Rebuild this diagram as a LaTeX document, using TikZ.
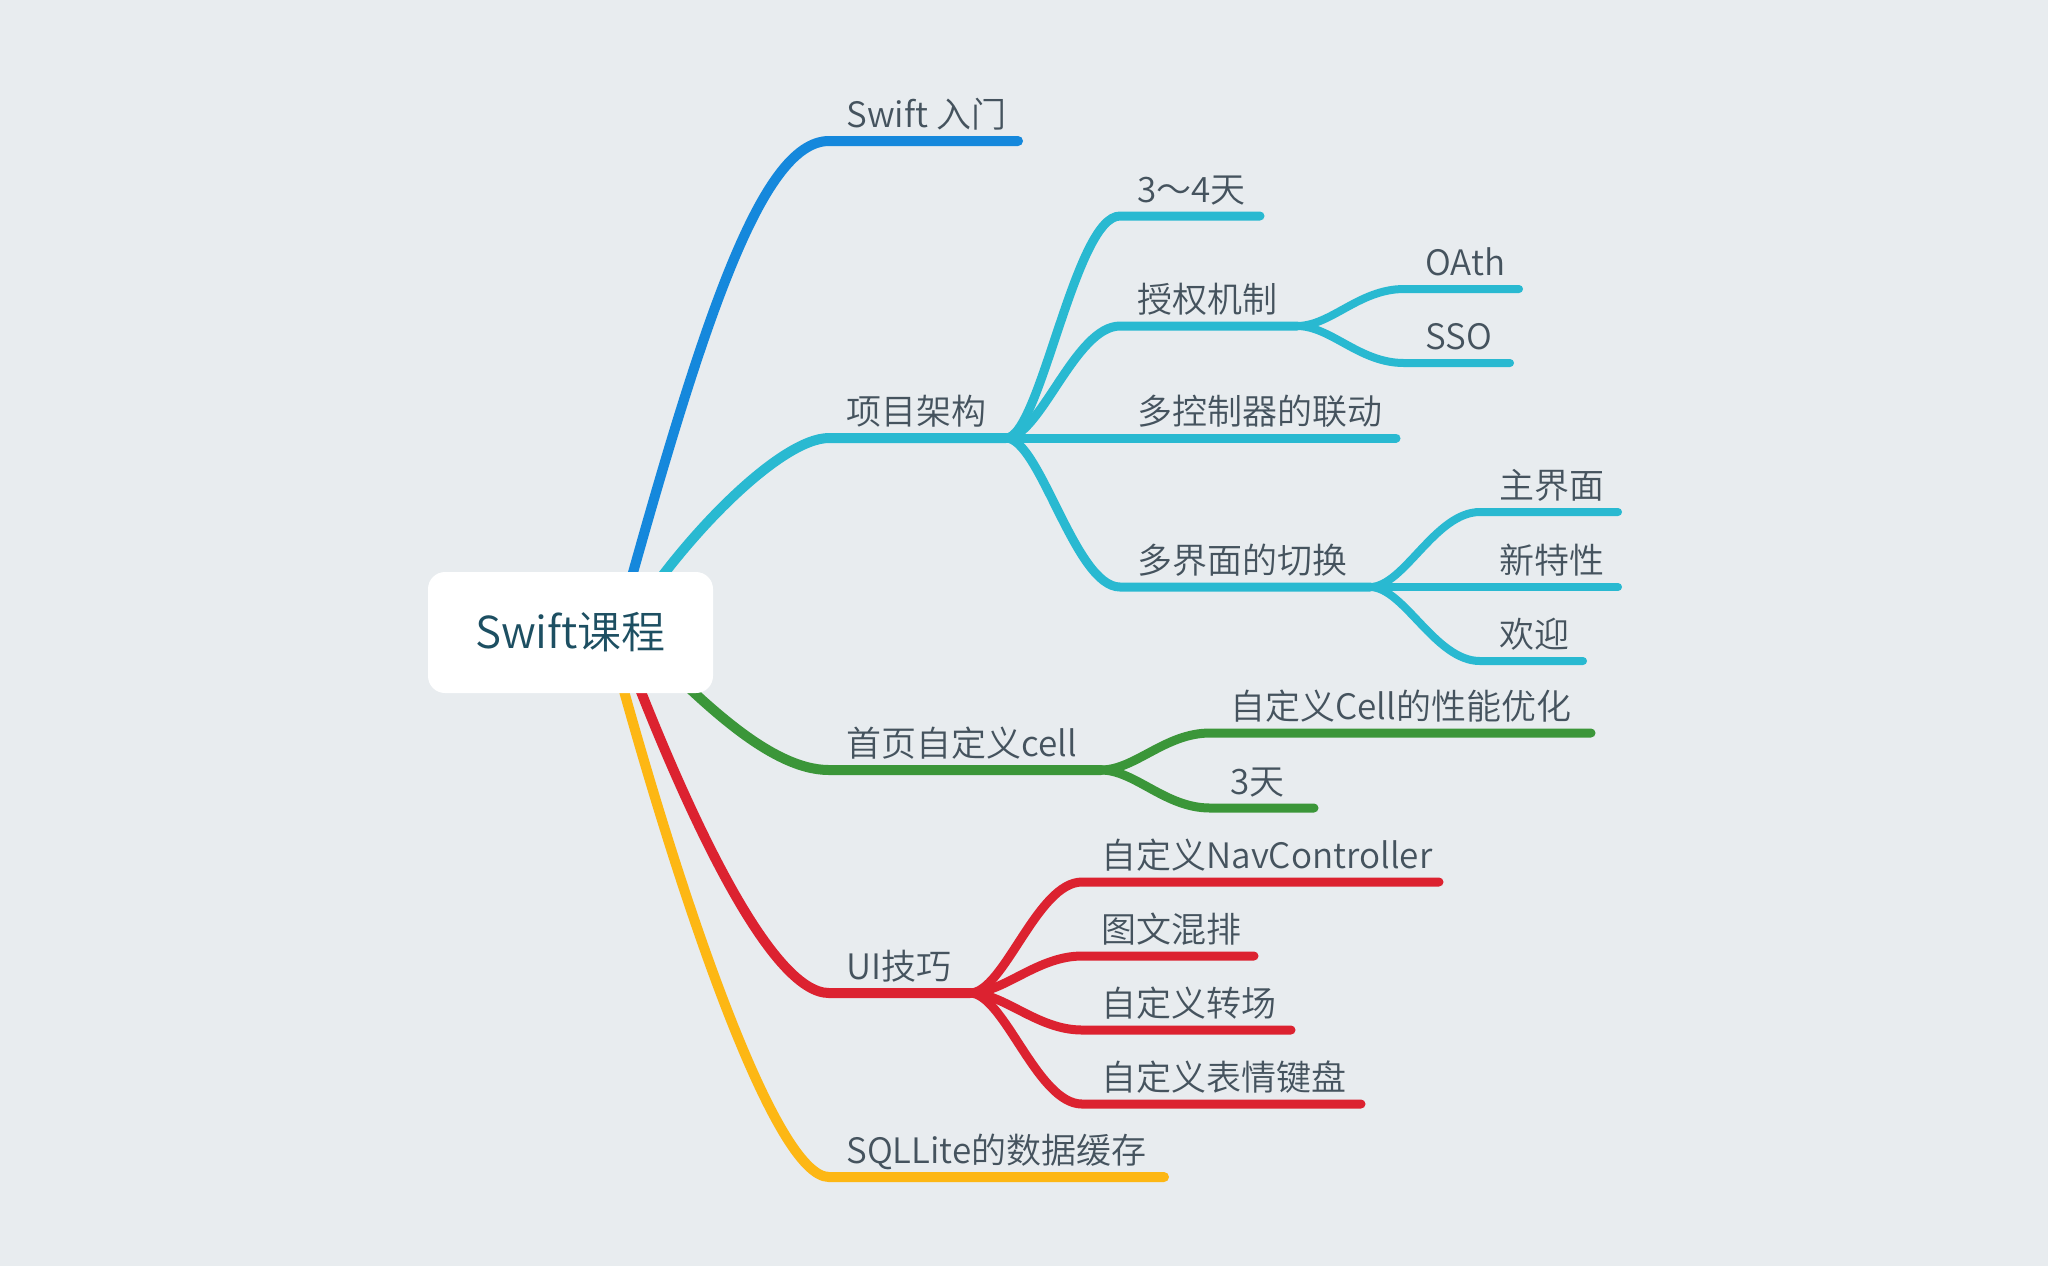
\documentclass[tikz,border=0pt]{standalone}
\usepackage{fontspec}
\setmainfont{Noto Sans CJK SC DemiLight}
\usepackage{tikz}

\definecolor{bgcol}{HTML}{E8ECEF}
\definecolor{txtcol}{HTML}{45535E}
\definecolor{roottxt}{HTML}{1D4F62}
\definecolor{cblue}{HTML}{1588DC}
\definecolor{ccyan}{HTML}{29B9D1}
\definecolor{cgreen}{HTML}{3B9639}
\definecolor{cred}{HTML}{DC2230}
\definecolor{cyellow}{HTML}{FDB714}

\tikzset{
  lone/.style={line width=5pt,line cap=round},
  ltwo/.style={line width=4.5pt,line cap=round},
  lthree/.style={line width=4pt,line cap=round},
  lbl/.style={anchor=base west,inner sep=0pt,text=txtcol,font=\fontsize{17.5}{20}\selectfont},
}

\begin{document}
\begin{tikzpicture}[x=0.5pt,y=-0.5pt]
\fill[bgcol] (0,0) rectangle (2048,1266);
\useasboundingbox (0,0) rectangle (2048,1266);

\coordinate (sBlue) at (617,630) ;
\coordinate (sCyan) at (625,630) ;
\coordinate (sGreen) at (640,640) ;
\coordinate (sRed) at (621,640) ;
\coordinate (sYellow) at (610,640) ;

\coordinate (cBlue) at (829,141) ;
\coordinate (eBlue) at (1018,141) ;
\coordinate (cCyan) at (829,438) ;
\coordinate (hCyan) at (1006,438) ;
\coordinate (cGreen) at (829,770) ;
\coordinate (hGreen) at (1101,770) ;
\coordinate (cRed) at (829,993) ;
\coordinate (hRed) at (970,993) ;
\coordinate (cYellow) at (829,1177) ;
\coordinate (eYellow) at (1164,1177) ;

\coordinate (cDays) at (1120,216) ;
\coordinate (eDays) at (1260,216) ;
\coordinate (cAuth) at (1120,326) ;
\coordinate (hAuth) at (1297,326) ;
\coordinate (eLink) at (1396,438) ;
\coordinate (cSwitch) at (1120,587) ;
\coordinate (hSwitch) at (1370,587) ;

\coordinate (cOath) at (1404,289) ;
\coordinate (eOath) at (1519,289) ;
\coordinate (cSso) at (1404,363) ;
\coordinate (eSso) at (1510,363) ;

\coordinate (cMain) at (1480,512) ;
\coordinate (eMain) at (1618,512) ;
\coordinate (eNew) at (1618,587) ;
\coordinate (cWelcome) at (1480,661) ;
\coordinate (eWelcome) at (1583,661) ;

\coordinate (cPerf) at (1210,733) ;
\coordinate (ePerf) at (1591,733) ;
\coordinate (cThree) at (1210,808) ;
\coordinate (eThree) at (1314,808) ;

\coordinate (cNav) at (1082,882) ;
\coordinate (eNav) at (1439,882) ;
\coordinate (cMix) at (1082,956) ;
\coordinate (eMix) at (1254,956) ;
\coordinate (cTrans) at (1082,1030) ;
\coordinate (eTrans) at (1291,1030) ;
\coordinate (cKey) at (1082,1104) ;
\coordinate (eKey) at (1361,1104) ;

\draw[lthree,ccyan] (hAuth) .. controls +(34,0) and +(-45,0) .. (cOath) -- (eOath) ;
\draw[lthree,ccyan] (hAuth) .. controls +(34,0) and +(-45,0) .. (cSso) -- (eSso) ;
\draw[lthree,ccyan] (hSwitch) .. controls +(34,0) and +(-45,0) .. (cMain) -- (eMain) ;
\draw[lthree,ccyan] (hSwitch) -- (eNew) ;
\draw[lthree,ccyan] (hSwitch) .. controls +(34,0) and +(-45,0) .. (cWelcome) -- (eWelcome) ;

\draw[ltwo,ccyan] (hCyan) .. controls +(34,0) and +(-45,0) .. (cDays) -- (eDays) ;
\draw[ltwo,ccyan] (hCyan) .. controls +(34,0) and +(-45,0) .. (cAuth) -- (hAuth) ;
\draw[ltwo,ccyan] (hCyan) -- (eLink) ;
\draw[ltwo,ccyan] (hCyan) .. controls +(34,0) and +(-45,0) .. (cSwitch) -- (hSwitch) ;

\draw[ltwo,cgreen] (hGreen) .. controls +(34,0) and +(-45,0) .. (cPerf) -- (ePerf) ;
\draw[ltwo,cgreen] (hGreen) .. controls +(34,0) and +(-45,0) .. (cThree) -- (eThree) ;

\draw[ltwo,cred] (hRed) .. controls +(34,0) and +(-45,0) .. (cNav) -- (eNav) ;
\draw[ltwo,cred] (hRed) .. controls +(34,0) and +(-45,0) .. (cMix) -- (eMix) ;
\draw[ltwo,cred] (hRed) .. controls +(34,0) and +(-45,0) .. (cTrans) -- (eTrans) ;
\draw[ltwo,cred] (hRed) .. controls +(34,0) and +(-45,0) .. (cKey) -- (eKey) ;

\draw[lone,cblue] (sBlue) .. controls (700,330) and (760,141) .. (cBlue) -- (eBlue) ;
\draw[lone,ccyan] (sCyan) .. controls (680,540) and (780,438) .. (cCyan) -- (hCyan) ;
\draw[lone,cgreen] (sGreen) .. controls (700,700) and (770,770) .. (cGreen) -- (hGreen) ;
\draw[lone,cred] (sRed) .. controls (685,810) and (770,993) .. (cRed) -- (hRed) ;
\draw[lone,cyellow] (sYellow) .. controls (680,900) and (775,1177) .. (cYellow) -- (eYellow) ;

\node[fill=white,rounded corners=8.5pt,minimum width=142.5pt,minimum height=60.5pt,text=roottxt,font=\fontsize{22}{26}\selectfont] (root) at (570.5,632.5) {Swift课程} ;

\node[lbl] (tBlue) at (846,127) {Swift 入门} ;
\node[lbl] (tCyan) at (846,424) {项目架构} ;
\node[lbl] (tGreen) at (846,756) {首页自定义cell} ;
\node[lbl] (tRed) at (846,979) {UI技巧} ;
\node[lbl] (tYellow) at (846,1163) {SQLLite的数据缓存} ;

\node[lbl] (tDays) at (1137,202) {3～4天} ;
\node[lbl] (tAuth) at (1137,312) {授权机制} ;
\node[lbl] (tLink) at (1137,424) {多控制器的联动} ;
\node[lbl] (tSwitch) at (1137,573) {多界面的切换} ;

\node[lbl] (tOath) at (1425,275) {OAth} ;
\node[lbl] (tSso) at (1425,349) {SSO} ;
\node[lbl] (tMain) at (1499,498) {主界面} ;
\node[lbl] (tNew) at (1499,573) {新特性} ;
\node[lbl] (tWelcome) at (1499,647) {欢迎} ;

\node[lbl] (tPerf) at (1230,719) {自定义Cell的性能优化} ;
\node[lbl] (tThree) at (1230,794) {3天} ;

\node[lbl] (tNav) at (1101,868) {自定义NavController} ;
\node[lbl] (tMix) at (1101,942) {图文混排} ;
\node[lbl] (tTrans) at (1101,1016) {自定义转场} ;
\node[lbl] (tKey) at (1101,1090) {自定义表情键盘} ;

\end{tikzpicture}
\end{document}
